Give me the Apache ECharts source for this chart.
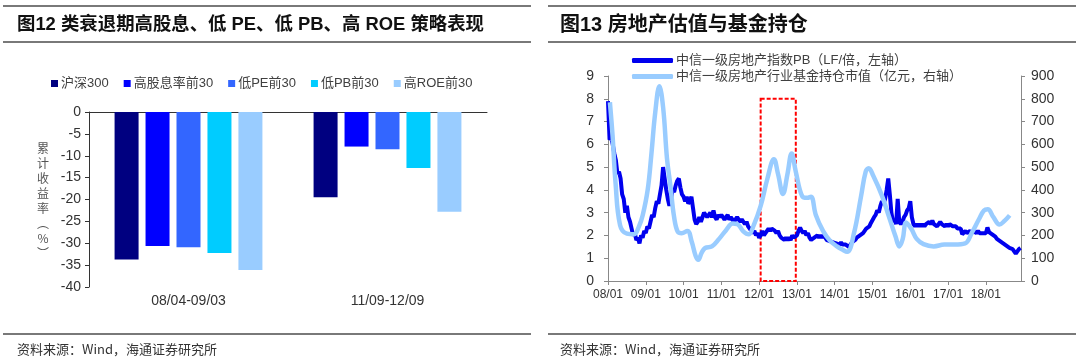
<!DOCTYPE html>
<html>
<head>
<meta charset="utf-8">
<script src="https://cdn.jsdelivr.net/npm/echarts@6/dist/echarts.min.js"></script>
<style>
html,body{margin:0;padding:0;background:#fff;}
#c{width:1080px;height:363px;}
</style>
</head>
<body>
<div id="c"></div>
<script>
// ---------- Left chart data ----------
const barCategories = ['08/04-09/03', '11/09-12/09'];
const barNames = ['沪深300', '高股息率前30', '低PE前30', '低PB前30', '高ROE前30'];
const hs300 = [-33.7, -19.5];
const highDividend = [-30.6, -7.9];
const lowPE = [-30.9, -8.5];
const lowPB = [-32.2, -12.8];
const highROE = [-36.1, -22.8];
const barColors = ['#000080', '#0000FF', '#3366FF', '#00CCFF', '#99CCFF'];

// ---------- Right chart data ----------
const pbName = '中信一级房地产指数PB（LF/倍，左轴）';
const fundName = '中信一级房地产行业基金持仓市值（亿元，右轴）';
const pbStartYear = 2008;
const pbPointsPerYear = 24; // semi-monthly readings
const pbValues = [
  // 2008
  7.9, 6.2, 6.3, 6.0, 5.6, 5.3, 4.7, 4.8, 4.5, 3.8, 3.6, 3.0, 3.3, 2.8, 2.6, 2.3, 2.0, 2.1, 1.8, 1.9, 1.65, 2.0, 1.9, 2.2,
  // 2009
  2.1, 2.4, 2.3, 2.6, 2.9, 2.8, 3.2, 3.5, 3.4, 3.8, 4.2, 5.0, 4.5, 4.0, 3.6, 3.3, 3.6, 4.0, 3.9, 4.2, 4.4, 4.5, 4.1, 3.8,
  // 2010
  3.7, 3.5, 3.7, 3.4, 3.5, 3.7, 3.2, 2.7, 2.5, 2.6, 2.8, 2.6, 2.8, 3.0, 2.9, 2.8, 2.9, 3.0, 2.8, 3.1, 2.8, 2.7, 2.9, 2.8,
  // 2011
  2.9, 2.8, 2.7, 2.8, 2.9, 2.7, 2.8, 2.7, 2.6, 2.7, 2.8, 2.8, 2.6, 2.7, 2.6, 2.5, 2.6, 2.4, 2.3, 2.2, 2.1, 2.2, 2.0, 2.1,
  // 2012
  1.9, 2.0, 2.2, 2.0, 2.1, 2.2, 2.3, 2.2, 2.3, 2.3, 2.2, 2.1, 2.2, 2.0, 1.9, 1.9, 1.8, 1.9, 1.8, 1.9, 1.8, 2.0, 1.9, 1.85,
  // 2013
  2.0, 2.2, 2.35, 2.2, 2.1, 2.2, 2.0, 2.1, 1.9, 1.8, 1.75, 1.9, 1.9, 2.0, 1.9, 2.0, 1.9, 2.0, 1.9, 1.8, 1.85, 1.75, 1.8, 1.7,
  // 2014
  1.7, 1.65, 1.7, 1.6, 1.7, 1.6, 1.65, 1.6, 1.55, 1.5, 1.6, 1.7, 1.75, 1.8, 1.9, 1.85, 2.0, 2.0, 2.1, 2.2, 2.3, 2.35, 2.4, 2.55,
  // 2015
  2.6, 2.8, 2.9, 3.1, 3.0, 3.3, 3.5, 3.4, 3.6, 4.0, 4.5, 3.8, 3.0, 2.6, 2.7, 2.5, 3.6, 2.6, 2.5, 2.6, 2.8, 2.9, 3.1, 3.2,
  // 2016
  3.5, 2.8, 2.5, 2.4, 2.5, 2.4, 2.5, 2.4, 2.5, 2.4, 2.5, 2.5, 2.6, 2.5, 2.65, 2.5, 2.5, 2.4, 2.5, 2.6, 2.5, 2.5, 2.4, 2.5,
  // 2017
  2.4, 2.5, 2.45, 2.4, 2.35, 2.4, 2.3, 2.35, 2.3, 2.05, 2.1, 2.2, 2.1, 2.15, 2.2, 2.1, 2.2, 2.15, 2.1, 2.2, 2.1, 2.15, 2.1, 2.05,
  // 2018
  2.1, 2.35, 2.15, 2.1, 2.05, 2.0, 1.95, 1.85, 1.8, 1.75, 1.7, 1.65, 1.6, 1.55, 1.5, 1.45, 1.5, 1.4, 1.3, 1.2, 1.3, 1.4, 1.45
];
const fundHoldings = [
  [2008.05, 785], [2008.12, 640], [2008.2, 430], [2008.32, 245], [2008.5, 208], [2008.69, 205], [2008.82, 240], [2008.92, 290],
  [2009.05, 400], [2009.15, 560], [2009.25, 740], [2009.36, 855], [2009.46, 760], [2009.56, 540], [2009.65, 420], [2009.75, 280],
  [2009.85, 215], [2009.95, 210], [2010.1, 220], [2010.22, 170], [2010.32, 110], [2010.39, 93], [2010.48, 125], [2010.57, 145],
  [2010.75, 152], [2010.94, 185], [2011.12, 222], [2011.3, 252], [2011.42, 250], [2011.58, 218], [2011.72, 205], [2011.85, 242],
  [2012.04, 330], [2012.22, 450], [2012.39, 535], [2012.5, 470], [2012.63, 382], [2012.75, 470], [2012.86, 560], [2012.97, 480],
  [2013.14, 372], [2013.27, 365], [2013.37, 370], [2013.5, 290], [2013.69, 220], [2013.87, 178], [2014.06, 152], [2014.2, 138],
  [2014.33, 128], [2014.51, 210], [2014.7, 375], [2014.82, 480], [2014.9, 495], [2015.02, 462], [2015.25, 375], [2015.43, 285],
  [2015.61, 195], [2015.71, 152], [2015.8, 185], [2015.89, 257], [2016.03, 228], [2016.17, 185], [2016.35, 162], [2016.62, 152],
  [2016.9, 160], [2017.17, 160], [2017.45, 165], [2017.63, 212], [2017.82, 272], [2017.95, 310], [2018.05, 315], [2018.2, 280],
  [2018.36, 248], [2018.5, 265], [2018.63, 288]
];
const highlightYears = [2012.04, 2012.97];
const highlightTop = 8;

const FONT = "'Liberation Sans', Arial, 'Noto Sans CJK SC', sans-serif";
const CJK = "'Noto Sans CJK SC', 'Liberation Sans', sans-serif";

const pbData = pbValues.map((v, i) => [pbStartYear + i / pbPointsPerYear, v]);
const barData = [hs300, highDividend, lowPE, lowPB, highROE];

const chart = echarts.init(document.getElementById('c'), null, {renderer: 'canvas'});

const lineColor = '#4d4d4d';
const option = {
  animation: false,
  backgroundColor: '#fff',
  textStyle: {fontFamily: FONT},
  grid: [
    {left: 89, top: 112, width: 398, height: 175},
    {left: 608, top: 76, width: 413, height: 205}
  ],
  legend: [
    {
      data: barNames,
      left: 46, top: 72,
      itemWidth: 7, itemHeight: 7, itemGap: 15,
      icon: 'rect',
      textStyle: {fontSize: 13, color: '#404040', fontFamily: FONT, padding: [0, 0, 0, -2]}
    },
    {
      data: [pbName, fundName],
      orient: 'vertical',
      left: 627, top: 49,
      itemWidth: 41, itemHeight: 5, itemGap: 3,
      icon: 'roundRect',
      textStyle: {fontSize: 13, color: '#404040', fontFamily: FONT, padding: [0, 0, 0, -2]}
    }
  ],
  xAxis: [
    {
      gridIndex: 0, type: 'category', data: barCategories, position: 'top',
      axisLine: {show: true, onZero: false, lineStyle: {color: '#333', width: 1}},
      axisTick: {show: false}, axisLabel: {show: false}
    },
    {
      gridIndex: 0, type: 'category', data: barCategories, position: 'bottom',
      axisLine: {show: false}, axisTick: {show: false},
      axisLabel: {fontSize: 14, color: '#333', margin: 7, fontFamily: FONT}
    },
    {
      gridIndex: 1, type: 'value', min: 2008, max: 2018.93, interval: 1,
      axisLine: {show: true, onZero: false, lineStyle: {color: '#888'}},
      axisTick: {show: true, length: 4, lineStyle: {color: '#888'}},
      splitLine: {show: false},
      axisLabel: {
        fontSize: 12, color: '#333', margin: 8, showMaxLabel: false,
        formatter: v => String(Math.round(v) % 100).padStart(2, '0') + '/01'
      }
    }
  ],
  yAxis: [
    {
      gridIndex: 0, type: 'value', min: -40, max: 0, interval: 5,
      axisLine: {show: true, lineStyle: {color: '#333'}},
      axisTick: {show: true, length: 4, lineStyle: {color: '#333'}},
      splitLine: {show: false},
      axisLabel: {fontSize: 14, color: '#333', margin: 8}
    },
    {
      gridIndex: 1, type: 'value', min: 0, max: 9, interval: 1, position: 'left',
      axisLine: {show: true, lineStyle: {color: '#888'}},
      axisTick: {show: true, length: 4, lineStyle: {color: '#888'}},
      splitLine: {show: false},
      axisLabel: {fontSize: 14, color: '#333', margin: 14}
    },
    {
      gridIndex: 1, type: 'value', min: 0, max: 900, interval: 100, position: 'right',
      axisLine: {show: true, lineStyle: {color: '#888'}},
      axisTick: {show: true, length: 4, lineStyle: {color: '#888'}},
      splitLine: {show: false},
      axisLabel: {fontSize: 14, color: '#333', margin: 10}
    }
  ],
  series: [
    ...barNames.map((name, k) => ({
      name, type: 'bar', xAxisIndex: 0, yAxisIndex: 0,
      data: barData[k],
      barWidth: 24, barGap: '29%',
      itemStyle: {color: barColors[k]}
    })),
    {
      name: pbName, type: 'line', xAxisIndex: 2, yAxisIndex: 1,
      data: pbData, showSymbol: false, symbol: 'none',
      lineStyle: {color: '#0000EE', width: 4},
      itemStyle: {color: '#0000EE'},
      z: 2,
      markArea: {
        silent: true,
        itemStyle: {color: 'rgba(0,0,0,0)', borderColor: '#FF0000', borderWidth: 2, borderType: [4, 2]},
        data: [[{coord: [highlightYears[0], highlightTop]}, {coord: [highlightYears[1], 0]}]]
      }
    },
    {
      name: fundName, type: 'line', xAxisIndex: 2, yAxisIndex: 2,
      data: fundHoldings, showSymbol: false, symbol: 'none', smooth: 0.4,
      lineStyle: {color: '#99CCFF', width: 4.5},
      itemStyle: {color: '#99CCFF'},
      z: 3
    }
  ],
  graphic: [
    {type: 'line', shape: {x1: 3, y1: 6, x2: 531, y2: 6}, style: {stroke: lineColor, lineWidth: 1.5}},
    {type: 'line', shape: {x1: 3, y1: 42, x2: 531, y2: 42}, style: {stroke: lineColor, lineWidth: 1.5}},
    {type: 'line', shape: {x1: 3, y1: 334, x2: 531, y2: 334}, style: {stroke: lineColor, lineWidth: 1.5}},
    {type: 'line', shape: {x1: 548, y1: 6, x2: 1076, y2: 6}, style: {stroke: lineColor, lineWidth: 1.5}},
    {type: 'line', shape: {x1: 548, y1: 42, x2: 1076, y2: 42}, style: {stroke: lineColor, lineWidth: 1.5}},
    {type: 'line', shape: {x1: 548, y1: 334, x2: 1076, y2: 334}, style: {stroke: lineColor, lineWidth: 1.5}},
    {type: 'text', x: 17, y: 25, style: {text: '图12 类衰退期高股息、低 PE、低 PB、高 ROE 策略表现', font: "bold 18.4px " + FONT, fill: '#111', verticalAlign: 'middle'}},
    {type: 'text', x: 560, y: 25, style: {text: '图13 房地产估值与基金持仓', font: "bold 20px " + FONT, fill: '#111', verticalAlign: 'middle'}},
    {type: 'text', x: 17, y: 349, style: {text: '资料来源：Wind，海通证券研究所', font: "13px " + CJK, fill: '#333', verticalAlign: 'middle'}},
    {type: 'text', x: 560, y: 349, style: {text: '资料来源：Wind，海通证券研究所', font: "13px " + CJK, fill: '#333', verticalAlign: 'middle'}},
    {type: 'text', x: 43, y: 201, style: {text: '累\n计\n收\n益\n率\n︵\n%\n︶', font: "12px " + CJK, lineHeight: 15, fill: '#555', align: 'center', verticalAlign: 'middle'}}
  ]
};
chart.setOption(option);
</script>
</body>
</html>
